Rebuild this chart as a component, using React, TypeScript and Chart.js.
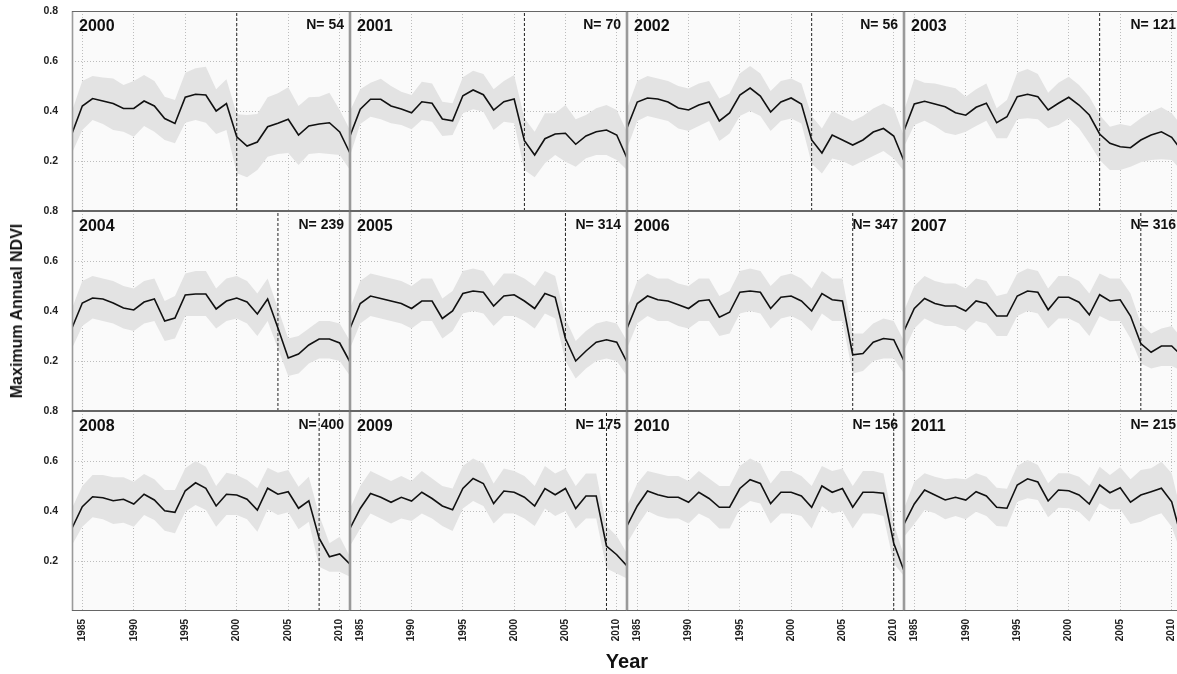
import React, { useEffect, useRef } from 'react';
import { Chart, registerables } from 'chart.js';

Chart.register(...registerables);

const FONT = '"Liberation Sans", Arial, Helvetica, sans-serif';

const years = [1984, 1985, 1986, 1987, 1988, 1989, 1990, 1991, 1992, 1993, 1994, 1995, 1996, 1997, 1998, 1999, 2000, 2001, 2002, 2003, 2004, 2005, 2006, 2007, 2008, 2009, 2010, 2011];
const xTickValues = [1985, 1990, 1995, 2000, 2005, 2010];
const yTickValues = [0.2, 0.4, 0.6, 0.8];
const panelYears = [2000, 2001, 2002, 2003, 2004, 2005, 2006, 2007, 2008, 2009, 2010, 2011];
const panelN = [54, 70, 56, 121, 239, 314, 347, 316, 400, 175, 156, 215];

const mean2000 = [0.31, 0.42, 0.45, 0.44, 0.43, 0.41, 0.41, 0.44, 0.42, 0.37, 0.35, 0.455, 0.467, 0.464, 0.40, 0.43, 0.297, 0.26, 0.276, 0.337, 0.351, 0.367, 0.304, 0.34, 0.348, 0.353, 0.316, 0.231];
const hi2000 = [0.40, 0.52, 0.54, 0.534, 0.53, 0.504, 0.52, 0.544, 0.52, 0.457, 0.444, 0.553, 0.571, 0.577, 0.487, 0.527, 0.387, 0.384, 0.388, 0.455, 0.471, 0.495, 0.42, 0.455, 0.457, 0.473, 0.404, 0.324];
const lo2000 = [0.232, 0.324, 0.364, 0.348, 0.324, 0.317, 0.297, 0.34, 0.317, 0.284, 0.271, 0.353, 0.364, 0.353, 0.308, 0.324, 0.151, 0.135, 0.164, 0.217, 0.228, 0.232, 0.184, 0.228, 0.232, 0.228, 0.224, 0.164];

const mean2001 = [0.30, 0.407, 0.447, 0.447, 0.42, 0.408, 0.393, 0.437, 0.431, 0.368, 0.361, 0.461, 0.484, 0.465, 0.404, 0.437, 0.448, 0.281, 0.224, 0.289, 0.308, 0.311, 0.267, 0.30, 0.317, 0.324, 0.304, 0.211];
const hi2001 = [0.40, 0.487, 0.513, 0.529, 0.50, 0.477, 0.464, 0.517, 0.51, 0.437, 0.431, 0.535, 0.561, 0.548, 0.487, 0.52, 0.544, 0.371, 0.317, 0.391, 0.391, 0.424, 0.367, 0.384, 0.411, 0.424, 0.404, 0.317];
const lo2001 = [0.22, 0.348, 0.377, 0.367, 0.351, 0.344, 0.327, 0.364, 0.357, 0.30, 0.304, 0.391, 0.407, 0.397, 0.324, 0.357, 0.351, 0.164, 0.135, 0.191, 0.224, 0.197, 0.177, 0.211, 0.224, 0.224, 0.204, 0.164];

const mean2002 = [0.332, 0.436, 0.452, 0.448, 0.436, 0.412, 0.404, 0.424, 0.436, 0.36, 0.392, 0.464, 0.492, 0.46, 0.396, 0.436, 0.452, 0.428, 0.284, 0.232, 0.304, 0.284, 0.264, 0.284, 0.316, 0.33, 0.30, 0.20];
const hi2002 = [0.41, 0.52, 0.54, 0.53, 0.52, 0.50, 0.49, 0.51, 0.52, 0.45, 0.47, 0.55, 0.58, 0.55, 0.48, 0.52, 0.53, 0.51, 0.38, 0.33, 0.40, 0.38, 0.36, 0.38, 0.41, 0.43, 0.41, 0.30];
const lo2002 = [0.25, 0.36, 0.38, 0.37, 0.36, 0.33, 0.32, 0.34, 0.36, 0.28, 0.31, 0.38, 0.40, 0.38, 0.32, 0.36, 0.37, 0.35, 0.19, 0.15, 0.21, 0.20, 0.18, 0.20, 0.22, 0.24, 0.21, 0.16];

const mean2003 = [0.321, 0.428, 0.439, 0.428, 0.417, 0.393, 0.383, 0.415, 0.431, 0.353, 0.377, 0.457, 0.467, 0.457, 0.404, 0.431, 0.455, 0.424, 0.384, 0.308, 0.271, 0.257, 0.253, 0.284, 0.304, 0.317, 0.295, 0.24];
const hi2003 = [0.40, 0.529, 0.513, 0.51, 0.50, 0.491, 0.457, 0.487, 0.51, 0.411, 0.444, 0.553, 0.568, 0.548, 0.473, 0.513, 0.537, 0.504, 0.457, 0.384, 0.337, 0.348, 0.34, 0.371, 0.397, 0.415, 0.391, 0.34];
const lo2003 = [0.257, 0.344, 0.361, 0.34, 0.313, 0.304, 0.317, 0.34, 0.361, 0.291, 0.291, 0.367, 0.371, 0.367, 0.331, 0.344, 0.371, 0.331, 0.271, 0.204, 0.164, 0.164, 0.177, 0.195, 0.204, 0.207, 0.204, 0.16];

const mean2004 = [0.332, 0.432, 0.452, 0.448, 0.432, 0.412, 0.404, 0.436, 0.448, 0.36, 0.372, 0.464, 0.468, 0.468, 0.408, 0.44, 0.452, 0.436, 0.388, 0.448, 0.332, 0.212, 0.228, 0.264, 0.288, 0.288, 0.272, 0.196];
const hi2004 = [0.41, 0.52, 0.54, 0.53, 0.52, 0.50, 0.49, 0.52, 0.53, 0.44, 0.46, 0.55, 0.56, 0.56, 0.49, 0.53, 0.54, 0.52, 0.47, 0.53, 0.41, 0.29, 0.30, 0.33, 0.36, 0.36, 0.35, 0.28];
const lo2004 = [0.25, 0.34, 0.37, 0.36, 0.35, 0.33, 0.32, 0.35, 0.36, 0.28, 0.29, 0.38, 0.38, 0.38, 0.33, 0.36, 0.37, 0.35, 0.30, 0.36, 0.25, 0.14, 0.15, 0.19, 0.21, 0.21, 0.20, 0.14];

const mean2005 = [0.33, 0.43, 0.46, 0.45, 0.44, 0.43, 0.41, 0.44, 0.44, 0.37, 0.40, 0.47, 0.48, 0.475, 0.42, 0.46, 0.465, 0.44, 0.41, 0.47, 0.455, 0.29, 0.20, 0.24, 0.275, 0.285, 0.275, 0.195];
const hi2005 = [0.41, 0.52, 0.55, 0.54, 0.53, 0.52, 0.50, 0.53, 0.53, 0.45, 0.48, 0.56, 0.57, 0.56, 0.50, 0.55, 0.55, 0.53, 0.50, 0.56, 0.54, 0.37, 0.28, 0.32, 0.35, 0.36, 0.35, 0.28];
const lo2005 = [0.25, 0.35, 0.38, 0.37, 0.36, 0.35, 0.33, 0.36, 0.36, 0.29, 0.32, 0.39, 0.40, 0.39, 0.34, 0.38, 0.38, 0.36, 0.33, 0.39, 0.37, 0.20, 0.13, 0.17, 0.20, 0.21, 0.20, 0.14];

const mean2006 = [0.33, 0.43, 0.46, 0.445, 0.44, 0.425, 0.41, 0.44, 0.445, 0.375, 0.395, 0.475, 0.48, 0.475, 0.41, 0.455, 0.46, 0.44, 0.40, 0.47, 0.445, 0.44, 0.225, 0.23, 0.275, 0.29, 0.285, 0.20];
const hi2006 = [0.41, 0.52, 0.55, 0.53, 0.53, 0.51, 0.50, 0.53, 0.53, 0.46, 0.48, 0.56, 0.57, 0.56, 0.50, 0.54, 0.55, 0.53, 0.49, 0.56, 0.53, 0.53, 0.31, 0.31, 0.35, 0.37, 0.36, 0.28];
const lo2006 = [0.25, 0.35, 0.38, 0.36, 0.36, 0.34, 0.33, 0.36, 0.36, 0.30, 0.31, 0.39, 0.40, 0.39, 0.33, 0.37, 0.38, 0.36, 0.32, 0.39, 0.36, 0.36, 0.15, 0.16, 0.20, 0.21, 0.21, 0.15];

const mean2007 = [0.32, 0.41, 0.45, 0.43, 0.42, 0.42, 0.40, 0.44, 0.43, 0.38, 0.38, 0.46, 0.48, 0.475, 0.405, 0.455, 0.455, 0.435, 0.385, 0.465, 0.44, 0.445, 0.38, 0.27, 0.235, 0.26, 0.26, 0.22];
const hi2007 = [0.40, 0.50, 0.54, 0.52, 0.51, 0.51, 0.49, 0.53, 0.52, 0.46, 0.47, 0.55, 0.57, 0.56, 0.49, 0.54, 0.54, 0.52, 0.47, 0.55, 0.53, 0.53, 0.47, 0.35, 0.31, 0.33, 0.34, 0.29];
const lo2007 = [0.24, 0.33, 0.37, 0.35, 0.34, 0.34, 0.32, 0.36, 0.35, 0.30, 0.30, 0.38, 0.40, 0.39, 0.33, 0.37, 0.37, 0.35, 0.30, 0.38, 0.36, 0.36, 0.29, 0.19, 0.17, 0.18, 0.18, 0.16];

const mean2008 = [0.331, 0.417, 0.457, 0.453, 0.441, 0.447, 0.428, 0.467, 0.444, 0.401, 0.395, 0.481, 0.513, 0.491, 0.42, 0.467, 0.464, 0.447, 0.404, 0.491, 0.467, 0.477, 0.411, 0.441, 0.291, 0.217, 0.228, 0.187];
const hi2008 = [0.411, 0.50, 0.544, 0.544, 0.535, 0.535, 0.517, 0.548, 0.527, 0.484, 0.484, 0.571, 0.60, 0.577, 0.50, 0.553, 0.544, 0.524, 0.491, 0.573, 0.553, 0.564, 0.497, 0.537, 0.384, 0.271, 0.297, 0.217];
const lo2008 = [0.264, 0.337, 0.375, 0.367, 0.348, 0.353, 0.337, 0.384, 0.364, 0.321, 0.311, 0.397, 0.424, 0.404, 0.337, 0.384, 0.384, 0.367, 0.317, 0.407, 0.384, 0.395, 0.327, 0.357, 0.177, 0.157, 0.157, 0.137];

const mean2009 = [0.33, 0.41, 0.47, 0.455, 0.435, 0.455, 0.44, 0.475, 0.45, 0.42, 0.405, 0.49, 0.53, 0.51, 0.43, 0.48, 0.475, 0.455, 0.42, 0.49, 0.465, 0.49, 0.41, 0.46, 0.46, 0.26, 0.225, 0.18];
const hi2009 = [0.41, 0.50, 0.56, 0.54, 0.52, 0.54, 0.52, 0.56, 0.53, 0.50, 0.49, 0.58, 0.61, 0.59, 0.51, 0.57, 0.56, 0.54, 0.50, 0.58, 0.55, 0.57, 0.50, 0.55, 0.55, 0.34, 0.30, 0.23];
const lo2009 = [0.26, 0.33, 0.39, 0.37, 0.35, 0.37, 0.36, 0.39, 0.37, 0.34, 0.32, 0.41, 0.44, 0.42, 0.35, 0.39, 0.39, 0.37, 0.34, 0.41, 0.38, 0.40, 0.33, 0.37, 0.37, 0.17, 0.15, 0.13];

const mean2010 = [0.34, 0.42, 0.48, 0.465, 0.455, 0.455, 0.435, 0.475, 0.45, 0.415, 0.415, 0.49, 0.525, 0.51, 0.43, 0.475, 0.475, 0.46, 0.415, 0.50, 0.475, 0.49, 0.415, 0.475, 0.475, 0.471, 0.271, 0.161];
const hi2010 = [0.42, 0.51, 0.56, 0.55, 0.54, 0.54, 0.52, 0.56, 0.53, 0.50, 0.50, 0.58, 0.61, 0.59, 0.51, 0.56, 0.56, 0.54, 0.50, 0.58, 0.56, 0.57, 0.50, 0.56, 0.56, 0.55, 0.35, 0.22];
const lo2010 = [0.27, 0.34, 0.40, 0.38, 0.37, 0.37, 0.35, 0.39, 0.37, 0.33, 0.33, 0.41, 0.44, 0.43, 0.35, 0.39, 0.39, 0.38, 0.33, 0.42, 0.39, 0.40, 0.33, 0.39, 0.39, 0.38, 0.19, 0.14];

const mean2011 = [0.347, 0.428, 0.484, 0.464, 0.444, 0.455, 0.444, 0.477, 0.46, 0.415, 0.411, 0.504, 0.529, 0.516, 0.44, 0.484, 0.481, 0.464, 0.428, 0.504, 0.473, 0.493, 0.435, 0.464, 0.477, 0.491, 0.437, 0.284];
const hi2011 = [0.41, 0.517, 0.551, 0.537, 0.527, 0.531, 0.527, 0.551, 0.537, 0.493, 0.489, 0.58, 0.604, 0.584, 0.511, 0.551, 0.551, 0.537, 0.50, 0.577, 0.544, 0.575, 0.527, 0.564, 0.571, 0.597, 0.551, 0.38];
const lo2011 = [0.297, 0.348, 0.404, 0.391, 0.367, 0.38, 0.367, 0.397, 0.38, 0.34, 0.337, 0.437, 0.451, 0.444, 0.375, 0.413, 0.411, 0.397, 0.357, 0.431, 0.407, 0.407, 0.348, 0.357, 0.377, 0.391, 0.337, 0.22];

const meanSeries = [mean2000, mean2001, mean2002, mean2003, mean2004, mean2005, mean2006, mean2007, mean2008, mean2009, mean2010, mean2011];
const hiSeries = [hi2000, hi2001, hi2002, hi2003, hi2004, hi2005, hi2006, hi2007, hi2008, hi2009, hi2010, hi2011];
const loSeries = [lo2000, lo2001, lo2002, lo2003, lo2004, lo2005, lo2006, lo2007, lo2008, lo2009, lo2010, lo2011];

// layout (page pixels)
const colEdges = [72, 350, 627, 904, 1182];
const rowEdges = [11, 211, 411, 611];
const PAD_L = 50;
const PAD_T = 15;
const PAD_R = 10;
const PAD_B = 50;

const pts = (arr: number[]) => arr.map((v, i) => ({ x: years[i], y: v }));

function Panel({ index }: { index: number }) {
  const ref = useRef<HTMLCanvasElement | null>(null);
  const r = Math.floor(index / 4);
  const c = index % 4;
  const w = colEdges[c + 1] - colEdges[c];
  const h = rowEdges[r + 1] - rowEdges[r];
  const cw = w + PAD_L + PAD_R;
  const ch = h + PAD_T + PAD_B;

  useEffect(() => {
    const canvas = ref.current;
    if (!canvas) return;
    const yr = panelYears[index];
    const nVal = panelN[index];

    const decor = {
      id: 'panelDecor',
      beforeDraw(chart: any) {
        const { ctx, chartArea } = chart;
        ctx.save();
        ctx.fillStyle = '#fafafa';
        ctx.fillRect(chartArea.left, chartArea.top, chartArea.right - chartArea.left, chartArea.bottom - chartArea.top);
        ctx.restore();
      },
      afterDraw(chart: any) {
        const { ctx, chartArea } = chart;
        const { left, top, right, bottom } = chartArea;
        ctx.save();
        ctx.strokeStyle = '#9a9a9a';
        ctx.lineWidth = 1.6;
        ctx.beginPath();
        ctx.moveTo(left + 0.5, top);
        ctx.lineTo(left + 0.5, bottom);
        ctx.moveTo(right - 0.5, top);
        ctx.lineTo(right - 0.5, bottom);
        ctx.stroke();
        ctx.strokeStyle = '#666';
        ctx.lineWidth = 1;
        ctx.beginPath();
        ctx.moveTo(left, top + 0.5);
        ctx.lineTo(right, top + 0.5);
        ctx.moveTo(left, bottom - 0.5);
        ctx.lineTo(right, bottom - 0.5);
        ctx.stroke();
        ctx.fillStyle = '#111';
        ctx.textBaseline = 'alphabetic';
        ctx.font = `bold 16px ${FONT}`;
        ctx.textAlign = 'left';
        ctx.fillText(String(yr), left + 7, top + 20);
        ctx.font = `bold 14px ${FONT}`;
        ctx.textAlign = 'right';
        ctx.fillText(`N= ${nVal}`, right - 6, top + 18);
        ctx.restore();
      },
    };

    const chart = new Chart(canvas, {
      type: 'line',
      data: {
        datasets: [
          {
            data: pts(meanSeries[index]),
            borderColor: '#111',
            borderWidth: 1.6,
            pointRadius: 0,
            fill: false,
            tension: 0,
          },
          {
            data: [{ x: yr, y: 0 }, { x: yr, y: 0.8 }],
            borderColor: '#222',
            borderWidth: 1,
            borderDash: [3, 2],
            pointRadius: 0,
            fill: false,
          },
          {
            data: pts(hiSeries[index]),
            borderColor: 'rgba(0,0,0,0)',
            borderWidth: 0,
            backgroundColor: '#e3e3e3',
            pointRadius: 0,
            fill: '+1',
            tension: 0,
          },
          {
            data: pts(loSeries[index]),
            borderColor: 'rgba(0,0,0,0)',
            borderWidth: 0,
            pointRadius: 0,
            fill: false,
            tension: 0,
          },
        ],
      },
      options: {
        responsive: false,
        animation: false,
        devicePixelRatio: 1,
        events: [],
        layout: { padding: { left: 0, top: PAD_T, right: PAD_R, bottom: 0 } },
        plugins: {
          legend: { display: false },
          tooltip: { enabled: false },
          title: { display: false },
        },
        scales: {
          x: {
            type: 'linear',
            min: 1984,
            max: 2011,
            afterBuildTicks: (s: any) => {
              s.ticks = xTickValues.map((v) => ({ value: v }));
            },
            afterFit: (s: any) => {
              s.height = PAD_B;
              s.paddingLeft = 0;
              s.paddingRight = 0;
              s.paddingTop = 0;
              s.paddingBottom = 0;
            },
            ticks: {
              display: r === 2,
              autoSkip: false,
              minRotation: 90,
              maxRotation: 90,
              padding: 8,
              color: '#222',
              font: { family: FONT, size: 10, weight: 'bold' },
              callback: (v: any) => String(v),
            },
            grid: { color: '#bdbdbd', lineWidth: 1, drawTicks: false },
            border: { display: false, dash: [1, 2] },
          },
          y: {
            type: 'linear',
            min: 0,
            max: 0.8,
            afterBuildTicks: (s: any) => {
              s.ticks = yTickValues.map((v) => ({ value: v }));
            },
            afterFit: (s: any) => {
              s.width = PAD_L;
              s.paddingLeft = 0;
              s.paddingRight = 0;
              s.paddingTop = 0;
              s.paddingBottom = 0;
            },
            ticks: {
              display: c === 0,
              padding: 14,
              color: '#222',
              font: { family: FONT, size: 10.5, weight: 'bold' },
              callback: (v: any) => Number(v).toFixed(1),
            },
            grid: { color: '#bdbdbd', lineWidth: 1, drawTicks: false },
            border: { display: false, dash: [1, 2] },
          },
        },
      } as any,
      plugins: [decor],
    });
    return () => chart.destroy();
  }, [index]);

  return (
    <canvas
      ref={ref}
      width={cw}
      height={ch}
      style={{
        position: 'absolute',
        left: colEdges[c] - PAD_L,
        top: rowEdges[r] - PAD_T,
        width: cw,
        height: ch,
      }}
    />
  );
}

export default function App() {
  return (
    <div
      style={{
        position: 'fixed',
        left: 0,
        top: 0,
        width: 1177,
        height: 674,
        overflow: 'hidden',
        background: '#fff',
        fontFamily: FONT,
      }}
    >
      {panelYears.map((_, i) => (
        <Panel key={i} index={i} />
      ))}
      <div
        style={{
          position: 'absolute',
          left: 17,
          top: 311,
          transform: 'translate(-50%, -50%) rotate(-90deg)',
          whiteSpace: 'nowrap',
          font: `bold 16px ${FONT}`,
          color: '#111',
        }}
      >
        Maximum Annual NDVI
      </div>
      <div
        style={{
          position: 'absolute',
          left: 627,
          top: 661,
          transform: 'translate(-50%, -50%)',
          whiteSpace: 'nowrap',
          font: `bold 20px ${FONT}`,
          color: '#111',
        }}
      >
        Year
      </div>
    </div>
  );
}
